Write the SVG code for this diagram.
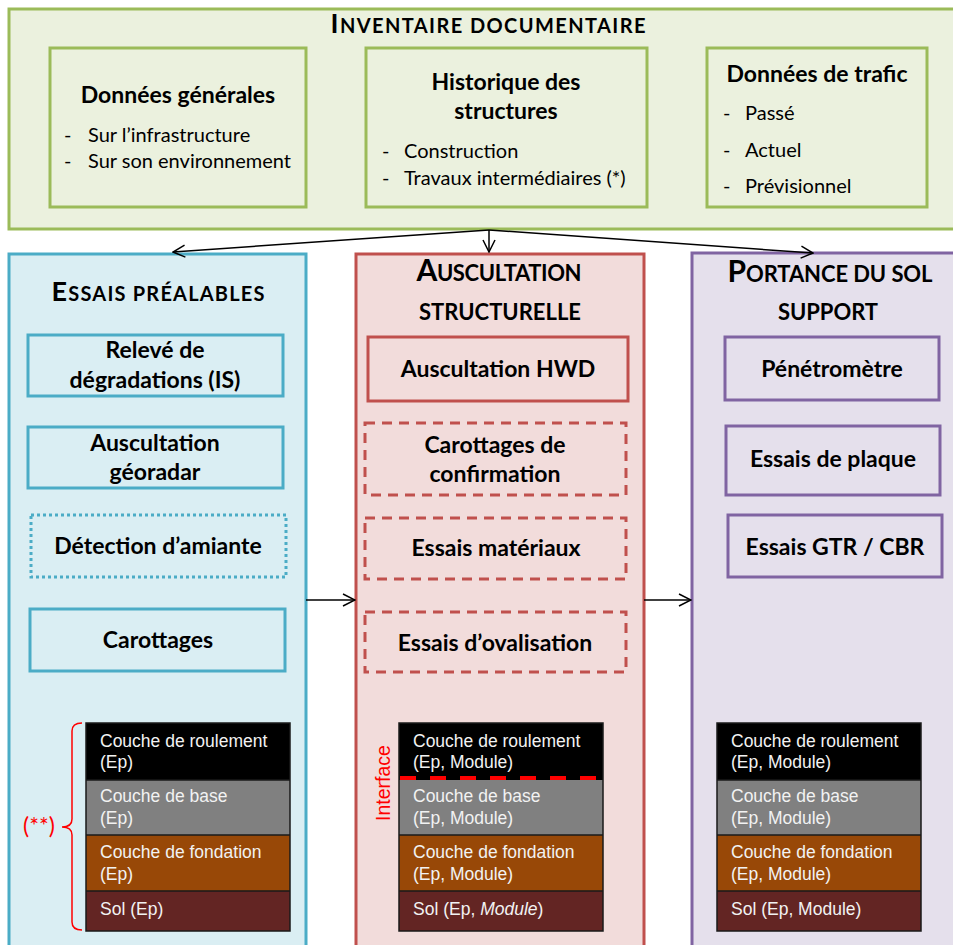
<svg xmlns="http://www.w3.org/2000/svg" width="953" height="945" viewBox="0 0 953 945">
<style>
.h{font-family:Lato,"Open Sans","Liberation Sans",sans-serif;font-weight:bold;fill:#000}
.r{font-family:Lato,"Open Sans","Liberation Sans",sans-serif;fill:#000;font-size:20px}
.n{font-size:23px;text-anchor:middle}
.t{text-anchor:middle}
.lay{font-family:"Liberation Sans",Arial,sans-serif;font-size:17.5px;fill:#F2F2F2}
.g{fill:#EBF1DE;stroke:#9BBB59;stroke-width:3}
.b{fill:#DAEEF3;stroke:#4BACC6;stroke-width:3}
.rd{fill:#F2DCDB;stroke:#C0504D;stroke-width:3}
.p{fill:#E5E0EC;stroke:#8064A2;stroke-width:3}
.sb{fill:none;stroke:#4BACC6;stroke-width:3}
.sr{fill:none;stroke:#C0504D;stroke-width:3}
.sp{fill:none;stroke:#8064A2;stroke-width:3}
.conn{fill:none;stroke:#000;stroke-width:1.5;marker-end:url(#arr)}
.ls{stroke:#1a1a1a;stroke-width:1.5}
</style>
<defs>
<marker id="arr" markerUnits="userSpaceOnUse" markerWidth="14" markerHeight="14" viewBox="0 0 14 14" refX="13" refY="7" orient="auto">
<path d="M1,1 L13,7 L1,13" fill="none" stroke="#000" stroke-width="1.5"/>
</marker>
</defs>

<g id="inventaire">
<rect class="g" x="9" y="9" width="960" height="220"/>
<text class="h t" x="488" y="33" textLength="315"><tspan font-size="27">I</tspan><tspan font-size="20">NVENTAIRE DOCUMENTAIRE</tspan></text>
</g>
<g id="donnees-generales">
<rect class="g" x="50" y="48" width="256" height="159"/>
<text class="h t" x="178" y="103" font-size="23">Données générales</text>
<text class="r" x="64" y="142">-</text><text class="r" x="88" y="142">Sur l’infrastructure</text>
<text class="r" x="64" y="168">-</text><text class="r" x="88" y="168">Sur son environnement</text>
</g>
<g id="historique">
<rect class="g" x="366" y="48" width="281" height="159"/>
<text class="h t" x="506" y="90" font-size="23">Historique des</text>
<text class="h t" x="506" y="119" font-size="23">structures</text>
<text class="r" x="382" y="158">-</text><text class="r" x="404" y="158">Construction</text>
<text class="r" x="382" y="185">-</text><text class="r" x="404" y="185">Travaux intermédiaires (*)</text>
</g>
<g id="trafic">
<rect class="g" x="707" y="48" width="220" height="159"/>
<text class="h t" x="817" y="82" font-size="23">Données de trafic</text>
<text class="r" x="723" y="120">-</text><text class="r" x="745" y="120">Passé</text>
<text class="r" x="723" y="157">-</text><text class="r" x="745" y="157">Actuel</text>
<text class="r" x="723" y="193">-</text><text class="r" x="745" y="193">Prévisionnel</text>
</g>

<g id="essais-prealables">
<rect class="b" x="9" y="254" width="297" height="710"/>
<text class="h t" x="158" y="301" textLength="213"><tspan font-size="27">E</tspan><tspan font-size="20">SSAIS PRÉALABLES</tspan></text>
</g>
<g id="auscultation-structurelle">
<rect class="rd" x="356" y="254" width="288" height="710"/>
<text class="h t" x="499" y="281" textLength="165"><tspan font-size="30">A</tspan><tspan font-size="22">USCULTATION</tspan></text>
<text class="h t" x="500" y="320" font-size="22" textLength="162">STRUCTURELLE</text>
</g>
<g id="portance">
<rect class="p" x="692" y="253" width="280" height="710"/>
<text class="h t" x="830" y="282" textLength="205"><tspan font-size="30">P</tspan><tspan font-size="22">ORTANCE DU SOL</tspan></text>
<text class="h t" x="828" y="320" font-size="22" textLength="100">SUPPORT</text>
</g>

<g id="connectors">
<line class="conn" x1="489" y1="230" x2="173" y2="252"/>
<line class="conn" x1="489" y1="230" x2="489" y2="252"/>
<line class="conn" x1="489" y1="230" x2="813" y2="253"/>
<line class="conn" x1="306" y1="600" x2="355" y2="600"/>
<line class="conn" x1="644" y1="600" x2="691" y2="600"/>
</g>

<g id="releve">
<rect class="sb" x="28" y="335" width="255" height="61"/>
<text class="h n" x="155" y="358">Relevé de</text>
<text class="h n" x="155" y="388">dégradations (IS)</text>
</g>
<g id="georadar">
<rect class="sb" x="28" y="427" width="255" height="61"/>
<text class="h n" x="155" y="451">Auscultation</text>
<text class="h n" x="155" y="480">géoradar</text>
</g>
<g id="amiante">
<rect class="sb" x="31" y="515" width="255" height="62" stroke-dasharray="3,3"/>
<text class="h n" x="158" y="554">Détection d’amiante</text>
</g>
<g id="carottages">
<rect class="sb" x="30" y="609" width="255" height="62"/>
<text class="h n" x="158" y="648">Carottages</text>
</g>

<g id="hwd">
<rect class="sr" x="368" y="337" width="260" height="64"/>
<text class="h n" x="498" y="377">Auscultation HWD</text>
</g>
<g id="carottages-confirmation">
<rect class="sr" x="365" y="423" width="261" height="72" stroke-dasharray="10,7"/>
<text class="h n" x="495" y="453">Carottages de</text>
<text class="h n" x="495" y="482">confirmation</text>
</g>
<g id="essais-materiaux">
<rect class="sr" x="365" y="518" width="261" height="61" stroke-dasharray="10,7"/>
<text class="h n" x="496" y="556">Essais matériaux</text>
</g>
<g id="ovalisation">
<rect class="sr" x="365" y="612" width="261" height="60" stroke-dasharray="10,7"/>
<text class="h n" x="495" y="651">Essais d’ovalisation</text>
</g>

<g id="penetrometre">
<rect class="sp" x="725" y="337" width="214" height="63"/>
<text class="h n" x="832" y="377">Pénétromètre</text>
</g>
<g id="plaque">
<rect class="sp" x="726" y="426" width="214" height="69"/>
<text class="h n" x="833" y="467">Essais de plaque</text>
</g>
<g id="gtr-cbr">
<rect class="sp" x="728" y="515" width="214" height="62"/>
<text class="h n" x="835" y="555">Essais GTR / CBR</text>
</g>

<g id="stack-left">
<rect x="86" y="723" width="204" height="57" fill="#000"/>
<rect x="86" y="780" width="204" height="55" fill="#808080"/>
<rect x="86" y="835" width="204" height="56" fill="#984807"/>
<rect x="86" y="891" width="204" height="40" fill="#632523"/>
<line class="ls" x1="86" y1="780" x2="290" y2="780"/>
<line class="ls" x1="86" y1="835" x2="290" y2="835"/>
<line class="ls" x1="86" y1="891" x2="290" y2="891"/>
<rect x="86" y="723" width="204" height="208" fill="none" class="ls"/>
<text class="lay" x="100" y="747">Couche de roulement</text>
<text class="lay" x="100" y="768">(Ep)</text>
<text class="lay" x="100" y="802">Couche de base</text>
<text class="lay" x="100" y="824">(Ep)</text>
<text class="lay" x="100" y="858">Couche de fondation</text>
<text class="lay" x="100" y="880">(Ep)</text>
<text class="lay" x="100" y="915">Sol (Ep)</text>
<path d="M82,723 Q72,723 72,731 L72,819 Q72,827 62,827 Q72,827 72,835 L72,922 Q72,930 82,930" fill="none" stroke="#FF0000" stroke-width="1.5"/>
<text x="23" y="834" font-family="Lato,'Liberation Sans',sans-serif" font-size="23" fill="#FF0000">(**)</text>
</g>

<g id="stack-middle">
<rect x="399" y="723" width="204" height="57" fill="#000"/>
<rect x="399" y="780" width="204" height="55" fill="#808080"/>
<rect x="399" y="835" width="204" height="56" fill="#984807"/>
<rect x="399" y="891" width="204" height="40" fill="#632523"/>
<line class="ls" x1="399" y1="835" x2="603" y2="835"/>
<line class="ls" x1="399" y1="891" x2="603" y2="891"/>
<rect x="399" y="723" width="204" height="208" fill="none" class="ls"/>
<line x1="400" y1="778" x2="602" y2="778" stroke="#FF0000" stroke-width="4" stroke-dasharray="16,14"/>
<text class="lay" x="413" y="747">Couche de roulement</text>
<text class="lay" x="413" y="768">(Ep, Module)</text>
<text class="lay" x="413" y="802">Couche de base</text>
<text class="lay" x="413" y="824">(Ep, Module)</text>
<text class="lay" x="413" y="858">Couche de fondation</text>
<text class="lay" x="413" y="880">(Ep, Module)</text>
<text class="lay" x="413" y="915">Sol (Ep, <tspan font-style="italic">Module</tspan>)</text>
<text transform="translate(390,783) rotate(-90)" text-anchor="middle" font-family="'Liberation Sans',Arial,sans-serif" font-size="19.5" fill="#FF0000">Interface</text>
</g>

<g id="stack-right">
<rect x="717" y="723" width="204" height="57" fill="#000"/>
<rect x="717" y="780" width="204" height="55" fill="#808080"/>
<rect x="717" y="835" width="204" height="56" fill="#984807"/>
<rect x="717" y="891" width="204" height="40" fill="#632523"/>
<line class="ls" x1="717" y1="780" x2="921" y2="780"/>
<line class="ls" x1="717" y1="835" x2="921" y2="835"/>
<line class="ls" x1="717" y1="891" x2="921" y2="891"/>
<rect x="717" y="723" width="204" height="208" fill="none" class="ls"/>
<text class="lay" x="731" y="747">Couche de roulement</text>
<text class="lay" x="731" y="768">(Ep, Module)</text>
<text class="lay" x="731" y="802">Couche de base</text>
<text class="lay" x="731" y="824">(Ep, Module)</text>
<text class="lay" x="731" y="858">Couche de fondation</text>
<text class="lay" x="731" y="880">(Ep, Module)</text>
<text class="lay" x="731" y="915">Sol (Ep, Module)</text>
</g>
</svg>
